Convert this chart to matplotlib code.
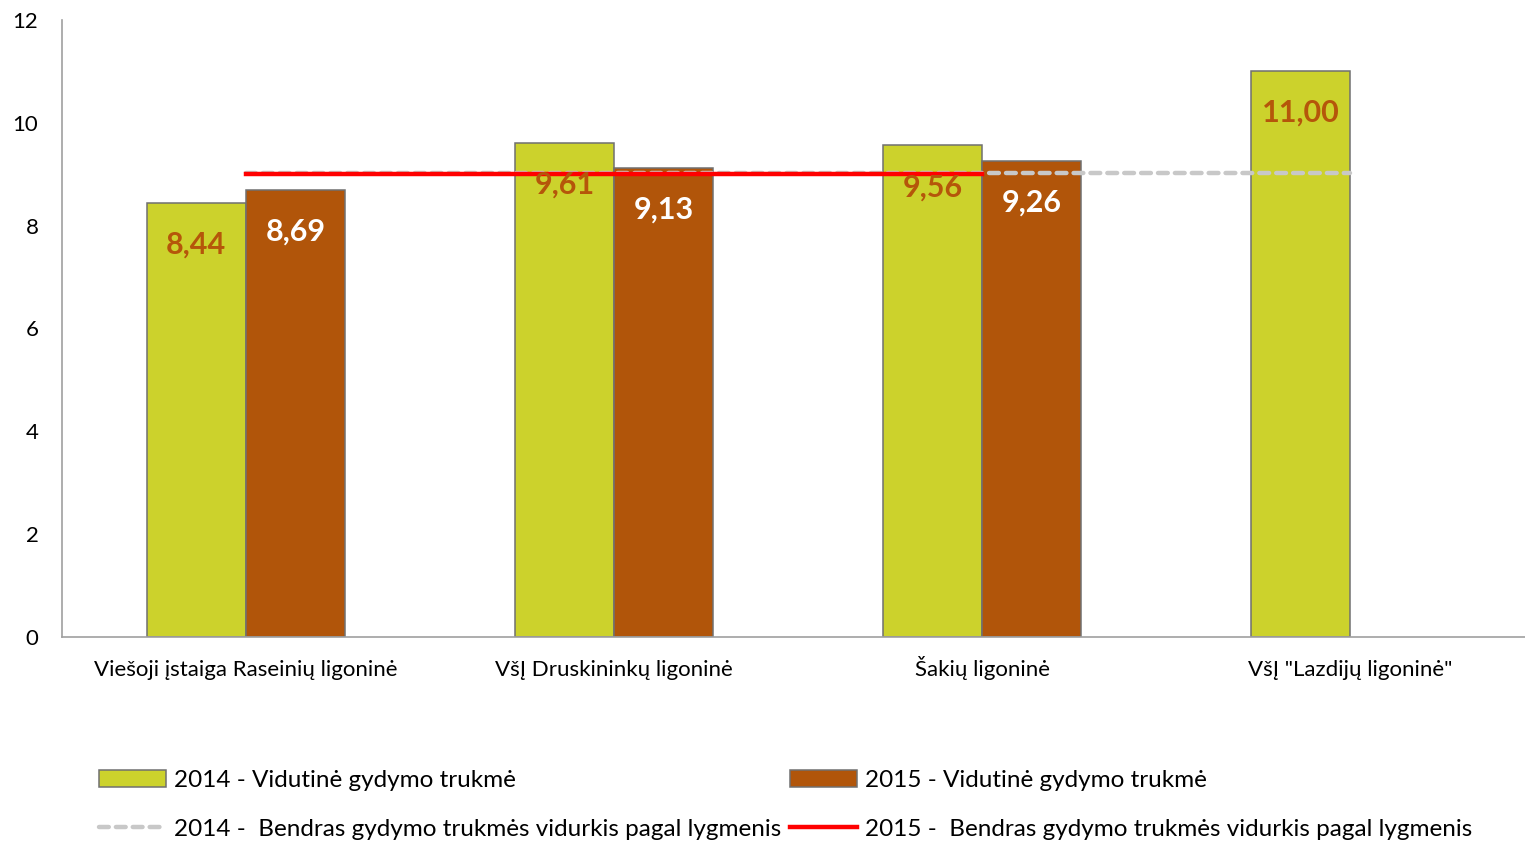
import matplotlib.pyplot as plt
import numpy as np
from matplotlib.lines import Line2D
from matplotlib.patches import Patch

plt.rcParams['font.family'] = ['Lato', 'DejaVu Sans']

# Data
categories = ['Viešoji įstaiga Raseinių ligoninė', 'VšĮ Druskininkų ligoninė',
              'Šakių ligoninė', 'VšĮ "Lazdijų ligoninė"']
vals_2014 = [8.44, 9.61, 9.56, 11.00]
vals_2015 = [8.69, 9.13, 9.26, np.nan]
avg_2014 = [9.03, 9.03, 9.03, 9.03]
avg_2015 = [9.01, 9.01, 9.01, np.nan]

c2014 = '#CCD22C'
c2015 = '#B1550A'
edge = '#707070'

fig = plt.figure(figsize=(15.25, 8.41), dpi=100)
ax = fig.add_axes([62 / 1525, 1 - 637 / 841, 1 - 62 / 1525, 617 / 841])

x = np.arange(len(categories))
w = 0.27

# Bars
ax.bar(x - w / 2, vals_2014, w, color=c2014, edgecolor=edge, linewidth=1.1, zorder=2)
ax.bar(x + w / 2, vals_2015, w, color=c2015, edgecolor=edge, linewidth=1.1, zorder=2)

# Average lines
ax.plot(x, avg_2014, color='#C8C8C8', linewidth=3.2, linestyle=(0, (2.2, 1.6)),
        dash_capstyle='round', zorder=3)
ax.plot(x, avg_2015, color='#FF0000', linewidth=3.2, zorder=4)

# Value labels
for xi, v in zip(x, vals_2014):
    ax.annotate(f'{v:.2f}'.replace('.', ','), (xi - w / 2, v), xytext=(0, -30),
                textcoords='offset points', ha='center', va='center',
                fontsize=22, fontweight='bold', color='#B5560A', zorder=5)
for xi, v in zip(x, vals_2015):
    if np.isnan(v):
        continue
    ax.annotate(f'{v:.2f}'.replace('.', ','), (xi + w / 2, v), xytext=(0, -30),
                textcoords='offset points', ha='center', va='center',
                fontsize=22, fontweight='bold', color='white', zorder=5)

# Axes styling
ax.set_xlim(-0.5, 3.475)
ax.set_ylim(0, 12)
ax.set_yticks(range(0, 13, 2))
ax.set_xticks(x)
ax.set_xticklabels(categories)
ax.tick_params(axis='both', length=0)
ax.tick_params(axis='x', pad=28, labelsize=16)
ax.tick_params(axis='y', pad=17, labelsize=16)
for lbl in ax.get_xticklabels():
    lbl.set_va('baseline')
for s in ['top', 'right']:
    ax.spines[s].set_visible(False)
for s in ['left', 'bottom']:
    ax.spines[s].set_color('#A0A0A0')
    ax.spines[s].set_linewidth(1.2)

# Legend
handles = [
    Patch(facecolor=c2014, edgecolor=edge, linewidth=1.1),
    Line2D([], [], color='#C8C8C8', linewidth=3.2, linestyle=(0, (2.2, 1.6)), dash_capstyle='round'),
    Patch(facecolor=c2015, edgecolor=edge, linewidth=1.1),
    Line2D([], [], color='#FF0000', linewidth=3.2),
]
labels = [
    '2014 - Vidutinė gydymo trukmė',
    '2014 -  Bendras gydymo trukmės vidurkis pagal lygmenis',
    '2015 - Vidutinė gydymo trukmė',
    '2015 -  Bendras gydymo trukmės vidurkis pagal lygmenis',
]
fig.legend(handles, labels, ncol=2, loc='upper left', bbox_to_anchor=(0.065, 0.085),
           frameon=False, fontsize=17.5, handlelength=2.75, handleheight=0.7,
           handletextpad=0.33, columnspacing=0.35, labelspacing=1.16,
           borderaxespad=0, borderpad=0)

fig.savefig('out.png', dpi=100)
